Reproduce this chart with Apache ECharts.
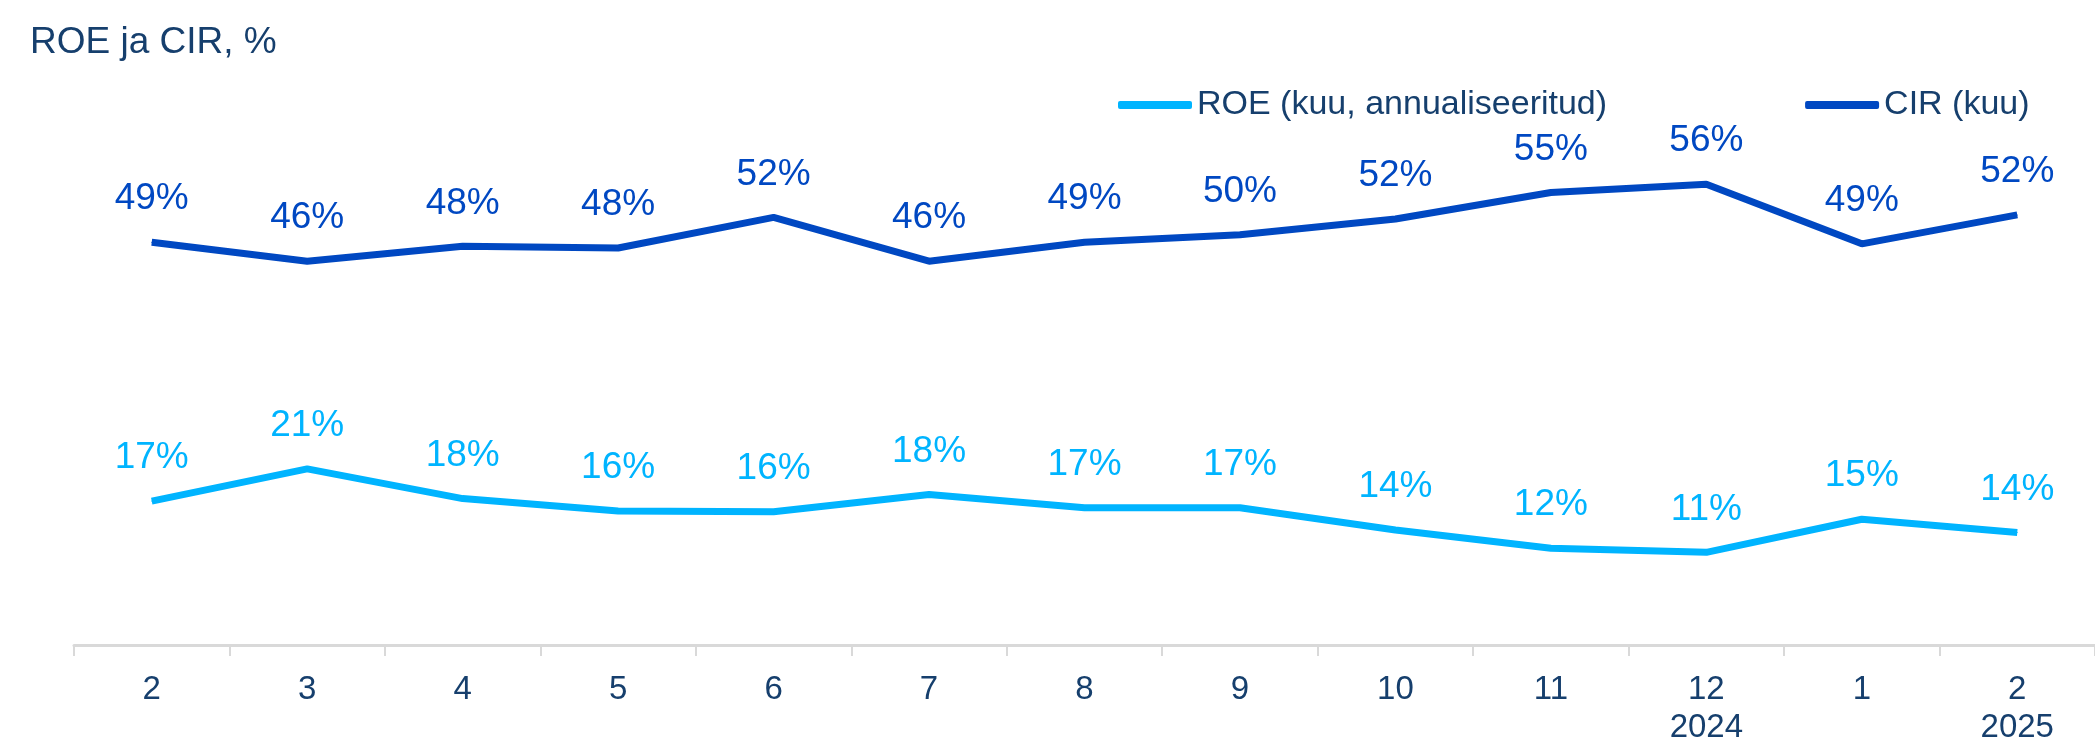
<!DOCTYPE html>
<head>
    <meta charset="utf-8">
    <title>ROE ja CIR</title>
    <style>
    html,body { height:100%; width:100%; margin:0; padding:0; background:#fff; }
    </style>
</head>
<body>
<div id="main" style="height:747px;width:2095px;"></div>
<script src="https://cdn.jsdelivr.net/npm/echarts@6/dist/echarts.min.js"></script>
<script type="text/javascript">
    // kuud (x-telg)
    var months = ['2', '3', '4', '5', '6', '7', '8', '9', '10', '11', '12\n2024', '1', '2\n2025'];
    // ROE (kuu, annualiseeritud), %
    var roeData = [17.4, 21.3, 17.7, 16.2, 16.1, 18.2, 16.6, 16.6, 13.9, 11.7, 11.2, 15.2, 13.6];
    // CIR (kuu), %
    var cirData = [48.7, 46.4, 48.2, 48.0, 51.7, 46.4, 48.7, 49.6, 51.5, 54.7, 55.7, 48.5, 52.0];

    var fontName = '"Liberation Sans", Arial, sans-serif';
    var textColor = '#163f6d';
    var roeColor = '#00b4ff';
    var cirColor = '#0048c2';

    var myChart = echarts.init(document.getElementById('main'));

    function pct(p) {
        return Math.round(p.value) + '%';
    }

    var options = {
        animation: false,
        title: {
            text: 'ROE ja CIR, %',
            left: 25,
            top: 19,
            textStyle: { fontFamily: fontName, fontSize: 37, fontWeight: 'normal', color: textColor }
        },
        legend: {
            left: 1113,
            top: 83,
            itemWidth: 74,
            itemHeight: 8,
            itemGap: 198,
            icon: 'roundRect',
            textStyle: { fontFamily: fontName, fontSize: 34, color: textColor },
            data: ['ROE (kuu, annualiseeritud)', 'CIR (kuu)']
        },
        grid: {
            left: 74,
            top: 66,
            width: 2055,
            bottom: 93
        },
        xAxis: {
            type: 'category',
            data: months,
            boundaryGap: true,
            axisLine: { lineStyle: { color: '#d9d9d9', width: 3 } },
            axisTick: { show: true, length: 11, lineStyle: { color: '#d9d9d9', width: 2 } },
            axisLabel: { fontFamily: fontName, fontSize: 33, color: textColor, margin: 26, lineHeight: 38, interval: 0 }
        },
        yAxis: {
            type: 'value',
            min: 0,
            max: 70,
            show: false,
            splitLine: { show: false }
        },
        series: [
            {
                name: 'ROE (kuu, annualiseeritud)',
                type: 'line',
                data: roeData,
                symbol: 'circle',
                symbolSize: 1,
                itemStyle: { color: roeColor },
                lineStyle: { color: roeColor, width: 7 },
                label: { show: true, position: 'top', distance: 24, formatter: pct,
                         fontFamily: fontName, fontSize: 37, color: roeColor }
            },
            {
                name: 'CIR (kuu)',
                type: 'line',
                data: cirData,
                symbol: 'circle',
                symbolSize: 1,
                itemStyle: { color: cirColor },
                lineStyle: { color: cirColor, width: 7 },
                label: { show: true, position: 'top', distance: 24, formatter: pct,
                         fontFamily: fontName, fontSize: 37, color: cirColor }
            }
        ]
    };
    myChart.setOption(options);
</script>
</body>
